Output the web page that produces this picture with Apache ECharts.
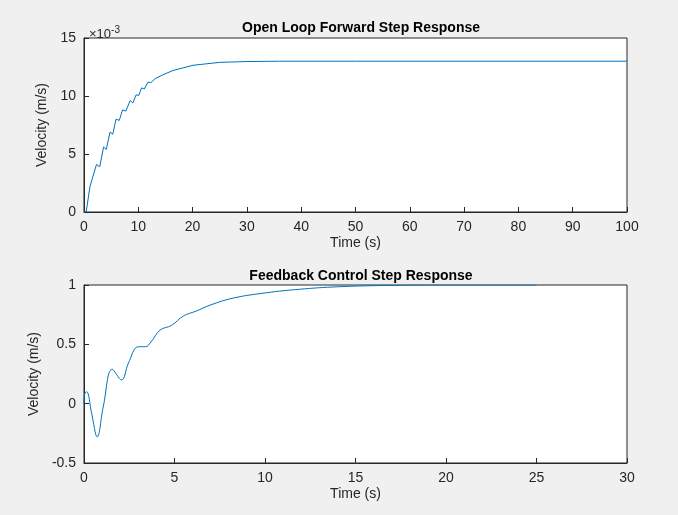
<!DOCTYPE html>
<html><head><meta charset="utf-8">
<script src="https://cdn.jsdelivr.net/npm/echarts@6/dist/echarts.min.js"></script>
<style>html,body{margin:0;background:#f0f0f0}#c{width:678px;height:515px}</style>
</head><body><div id="c"></div>
<script>
// open loop: time (s), velocity (x1e-3 m/s)
var openT = [0, 0.4, 1.1, 1.4, 2.3, 2.9, 3.6, 4.1, 4.8, 5.3, 5.9, 6.5, 7.1, 7.7, 8.5, 9.0, 9.6, 10.1, 10.6, 11.1, 11.8, 12.3, 13.1, 14.4, 16.4, 20.1, 25, 30, 36, 50, 100];
var openV = [0, 0, 2.2, 2.1, 4.1, 3.9, 5.6, 5.4, 6.9, 6.7, 8.0, 7.9, 8.8, 8.7, 9.6, 9.4, 10.1, 10.05, 10.7, 10.6, 11.2, 11.15, 11.5, 11.8, 12.2, 12.65, 12.9, 12.97, 13.0, 13.0, 13.0];
// feedback control
var fbT = [0, 0.05, 0.15, 0.42, 0.73, 1.07, 1.56, 2.08, 2.45, 3.0, 3.4, 3.7, 4.2, 4.84, 5.5, 6.2, 6.96, 8.25, 10.1, 11.9, 14, 17, 20, 25];
var fbV = [0, 0.09, 0.1, -0.08, -0.28, -0.02, 0.29, 0.2, 0.34, 0.48, 0.48, 0.52, 0.62, 0.66, 0.74, 0.78, 0.83, 0.89, 0.935, 0.964, 0.985, 0.997, 1.0, 1.0];

function pairs(t, v) { return t.map(function (x, i) { return [x, v[i]]; }); }

var font = 'Arial, Liberation Sans, Helvetica';
var lbl = { color: '#262626', fontSize: 14, fontFamily: font };
function xAx(idx, max, step) {
  return { gridIndex: idx, type: 'value', min: 0, max: max, interval: step,
    name: 'Time (s)', nameLocation: 'middle', nameGap: 24, nameTextStyle: lbl,
    axisLabel: lbl, axisLine: { onZero: false, lineStyle: { color: '#262626' } },
    axisTick: { inside: true, length: 5, lineStyle: { color: '#262626' } }, splitLine: { show: false } };
}
function yAx(idx, min, max, step, gap) {
  return { gridIndex: idx, type: 'value', min: min, max: max, interval: step,
    name: 'Velocity (m/s)', nameLocation: 'middle', nameGap: gap, nameTextStyle: lbl,
    axisLabel: lbl, axisLine: { show: true, onZero: false, lineStyle: { color: '#262626' } },
    axisTick: { show: true, inside: true, length: 5, lineStyle: { color: '#262626' } }, splitLine: { show: false } };
}
var chart = echarts.init(document.getElementById('c'));
chart.setOption({
  backgroundColor: '#f0f0f0',
  animation: false,
  title: [
    { text: 'Open Loop Forward Step Response', left: 356, top: 16, textAlign: 'center', textStyle: { fontSize: 14, fontWeight: 'bold', color: '#000', fontFamily: font } },
    { text: 'Feedback Control Step Response', left: 356, top: 264, textAlign: 'center', textStyle: { fontSize: 14, fontWeight: 'bold', color: '#000', fontFamily: font } },
    { text: '×10{s|-3}', left: 84, top: 20, textStyle: { fontSize: 13, fontWeight: 'normal', color: '#262626', fontFamily: font, rich: { s: { fontSize: 10, verticalAlign: 'top', color: '#262626', padding: [0, 0, 8, 0] } } } }
  ],
  grid: [
    { left: 84, right: 51, top: 38, height: 174, show: true, backgroundColor: '#fff', borderColor: '#262626' },
    { left: 84, right: 51, top: 285, height: 178, show: true, backgroundColor: '#fff', borderColor: '#262626' }
  ],
  xAxis: [xAx(0, 100, 10), xAx(1, 30, 5)],
  yAxis: [yAx(0, 0, 15, 5, 30), yAx(1, -0.5, 1, 0.5, 38)],
  series: [
    { type: 'line', xAxisIndex: 0, yAxisIndex: 0, data: pairs(openT, openV), showSymbol: false, lineStyle: { color: '#0072bd', width: 1 } },
    { type: 'line', xAxisIndex: 1, yAxisIndex: 1, data: pairs(fbT, fbV), smooth: 0.4, showSymbol: false, lineStyle: { color: '#0072bd', width: 1 } }
  ]
});
</script></body></html>
